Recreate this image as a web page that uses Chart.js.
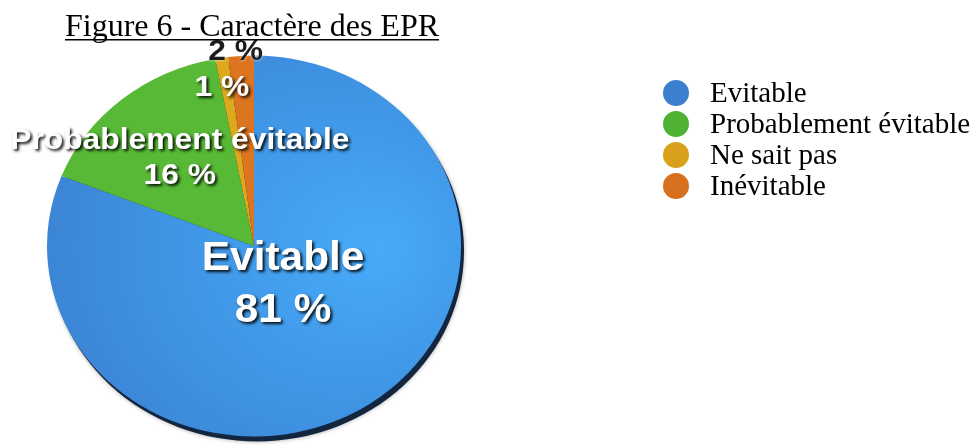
<!DOCTYPE html>
<html>
<head>
<meta charset="utf-8">
<script src="https://cdn.jsdelivr.net/npm/chart.js@4.4.1/dist/chart.umd.min.js"></script>
<style>
  html, body { margin: 0; padding: 0; background: #fff; }
  canvas { display: block; }
</style>
</head>
<body>
<canvas id="pie" width="976" height="445"></canvas>
<script>
// Données du graphique
const titre = 'Figure 6 - Caractère des EPR';
const categories = ['Evitable', 'Probablement évitable', 'Ne sait pas', 'Inévitable'];
const pourcentages = [81, 16, 1, 2];
const couleurs = ['#3c84d6', '#58b937', '#dca81c', '#dc7420'];
const couleursLegende = ['#3b7fce', '#4fb232', '#d9a11b', '#d7701e'];

// Aplatissement vertical pour l'effet 3D
const ECRASE = 0.92;
const DECALAGE_Y = 19;

// position radiale des étiquettes (fraction du rayon)
const radialEtiquette = [0.25, 0.6, 0.84, 1.02];

const effet3D = {
    id: 'effet3D',
    beforeDatasetsDraw(chart) {
        const arc = chart.getDatasetMeta(0).data[0];
        if (!arc) return;
        const ctx = chart.ctx;
        const cx = arc.x, cy = arc.y, r = arc.outerRadius;
        // ombre / tranche
        ctx.save();
        ctx.fillStyle = '#13263f';
        ctx.shadowColor = 'rgba(0,0,0,0.35)';
        ctx.shadowBlur = 4;
        ctx.beginPath();
        ctx.ellipse(cx + 3, cy + DECALAGE_Y + 5, r, r * ECRASE, 0, 0, Math.PI * 2);
        ctx.fill();
        ctx.restore();

        ctx.save();
        ctx.translate(cx, cy + DECALAGE_Y);
        ctx.scale(1, ECRASE);
        ctx.translate(-cx, -cy);
    },
    afterDatasetsDraw(chart) {
        chart.ctx.restore();
        const ctx = chart.ctx;
        const arcs = chart.getDatasetMeta(0).data;

        // étiquettes des parts
        arcs.forEach((arc, i) => {
            const mid = (arc.startAngle + arc.endAngle) / 2;
            const r = arc.outerRadius * radialEtiquette[i];
            let x = arc.x + Math.cos(mid) * r;
            const y = arc.y + DECALAGE_Y + Math.sin(mid) * r * ECRASE;
            if (i === 1) x += 5;
            if (i >= 2) x -= 5;
            const taille = i === 0 ? 40 : 30;
            const lignes = [];
            if (i <= 1) lignes.push(categories[i]);
            lignes.push(pourcentages[i] + ' %');
            const pas = i === 0 ? 52 : 35;
            ctx.save();
            ctx.translate(x, y);
            ctx.scale(1.06, 1);
            ctx.font = 'bold ' + taille + 'px "Liberation Sans", Arial, sans-serif';
            ctx.textAlign = 'center';
            ctx.textBaseline = 'middle';
            if (i === 3) {
                ctx.fillStyle = '#1c1c1c';
                ctx.shadowColor = 'rgba(255,255,255,0.9)';
                ctx.shadowBlur = 3;
            } else {
                ctx.fillStyle = '#ffffff';
                ctx.shadowColor = 'rgba(0,0,0,0.9)';
                ctx.shadowBlur = 3;
                ctx.shadowOffsetX = 2;
                ctx.shadowOffsetY = 2;
            }
            const y0 = -(lignes.length - 1) * pas / 2;
            lignes.forEach((t, k) => ctx.fillText(t, 0, y0 + k * pas));
            ctx.restore();
        });

        // titre souligné
        ctx.save();
        ctx.font = '32px "Liberation Serif", "Times New Roman", serif';
        ctx.fillStyle = '#000';
        ctx.textAlign = 'center';
        ctx.textBaseline = 'alphabetic';
        const tx = 252, ty = 36;
        ctx.fillText(titre, tx, ty);
        const w = ctx.measureText(titre).width;
        ctx.fillRect(tx - w / 2, ty + 3, w, 1.5);
        ctx.restore();

        // légende
        ctx.save();
        ctx.font = '29px "Liberation Serif", "Times New Roman", serif';
        ctx.textBaseline = 'middle';
        categories.forEach((c, i) => {
            const y = 93 + i * 31;
            ctx.fillStyle = couleursLegende[i];
            ctx.beginPath();
            ctx.arc(676, y, 13, 0, Math.PI * 2);
            ctx.fill();
            ctx.fillStyle = '#000';
            ctx.fillText(c, 710, y + 1);
        });
        ctx.restore();
    }
};

function fondPart(context) {
    const i = context.dataIndex;
    const area = context.chart.chartArea;
    if (i !== 0 || !area) return couleurs[i];
    const g = context.chart.ctx.createRadialGradient(380, 230, 10, 300, 230, 330);
    g.addColorStop(0, '#46aaf8');
    g.addColorStop(0.55, '#3f92e2');
    g.addColorStop(1, '#3a7ccc');
    return g;
}

const pieConfig = {
    type: 'pie',
    data: {
        labels: categories,
        datasets: [{
            data: pourcentages,
            backgroundColor: fondPart,
            borderWidth: 0
        }]
    },
    options: {
        responsive: false,
        animation: false,
        events: [],
        layout: {
            padding: { left: 47, right: 515, top: 20, bottom: 11 }
        },
        plugins: {
            legend: { display: false },
            title: { display: false },
            tooltip: { enabled: false }
        }
    },
    plugins: [effet3D]
};

const pieChart = new Chart(document.getElementById('pie'), pieConfig);
</script>
</body>
</html>
